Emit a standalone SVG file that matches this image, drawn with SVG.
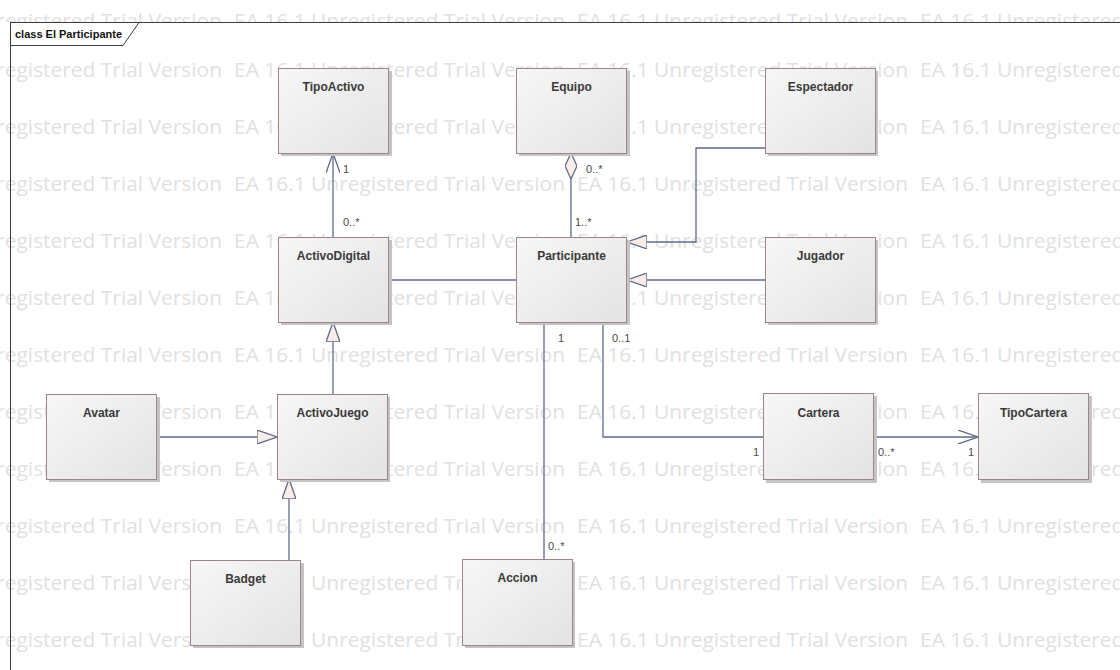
<svg xmlns="http://www.w3.org/2000/svg" xmlns:xlink="http://www.w3.org/1999/xlink" width="1120" height="670" viewBox="0 0 1120 670">
  <style>
    .wm { font-family: "Open Sans", "Liberation Sans", sans-serif; font-size: 20px; fill: #e1e1e1; }
    .box { fill: url(#boxFill); stroke: #9c8585; stroke-width: 1; }
    .shadow { fill: #c4c4c4; }
    .name { font-family: "Liberation Sans", Arial, sans-serif; font-size: 12px; font-weight: bold; fill: #3a3a3a; text-anchor: middle; }
    .edge { fill: none; stroke: #5f6b8a; stroke-width: 1.3; }
    .mult { font-family: "Liberation Sans", Arial, sans-serif; font-size: 11px; fill: #4a4a4a; }
    .frame { fill: none; stroke: #3c3c3c; stroke-width: 1; }
    .title { font-family: "Liberation Sans", Arial, sans-serif; font-size: 11px; font-weight: bold; fill: #111; }
  </style>
  <defs>
    <linearGradient id="boxFill" x1="0" y1="0" x2="1" y2="1">
      <stop offset="0" stop-color="#f7f7f7"/>
      <stop offset="1" stop-color="#e3e3e3"/>
    </linearGradient>
    <clipPath id="aboveFrame">
      <rect x="0" y="0" width="1120" height="22"/>
    </clipPath>
    <!-- generalization: hollow triangle -->
    <marker id="gen" viewBox="0 0 20 14" refX="20" refY="7" markerWidth="20" markerHeight="14" markerUnits="userSpaceOnUse" orient="auto">
      <path d="M0,0 L20,7 L0,14 Z" fill="#faece6" stroke="#5f6b8a" stroke-width="1.3"/>
    </marker>
    <!-- navigable association: open arrow -->
    <marker id="open" viewBox="0 0 20 14" refX="20" refY="7" markerWidth="20" markerHeight="14" markerUnits="userSpaceOnUse" orient="auto">
      <path d="M0,0 L20,7 L0,14" fill="none" stroke="#5f6b8a" stroke-width="1.3"/>
    </marker>
    <!-- shared aggregation: hollow diamond -->
    <marker id="agg" viewBox="0 0 26 12" refX="0" refY="6" markerWidth="26" markerHeight="12" markerUnits="userSpaceOnUse" orient="auto">
      <path d="M0,6 L13,0 L26,6 L13,12 Z" fill="#faece6" stroke="#5f6b8a" stroke-width="1.3"/>
    </marker>
    <g id="wmRow">
      <text class="wm" x="-109" textLength="331" lengthAdjust="spacingAndGlyphs">EA 16.1 Unregistered Trial Version</text>
      <text class="wm" x="234" textLength="331" lengthAdjust="spacingAndGlyphs">EA 16.1 Unregistered Trial Version</text>
      <text class="wm" x="577" textLength="331" lengthAdjust="spacingAndGlyphs">EA 16.1 Unregistered Trial Version</text>
      <text class="wm" x="920" textLength="331" lengthAdjust="spacingAndGlyphs">EA 16.1 Unregistered Trial Version</text>
    </g>
  </defs>

  <rect x="0" y="0" width="1120" height="670" fill="#ffffff"/>

  <!-- background evaluation stamp -->
  <g id="watermark">
    <g clip-path="url(#aboveFrame)">
      <use xlink:href="#wmRow" y="28"/>
    </g>
    <use xlink:href="#wmRow" y="77"/>
    <use xlink:href="#wmRow" y="134"/>
    <use xlink:href="#wmRow" y="191"/>
    <use xlink:href="#wmRow" y="248"/>
    <use xlink:href="#wmRow" y="305"/>
    <use xlink:href="#wmRow" y="362"/>
    <use xlink:href="#wmRow" y="419"/>
    <use xlink:href="#wmRow" y="476"/>
    <use xlink:href="#wmRow" y="533"/>
    <use xlink:href="#wmRow" y="590"/>
    <use xlink:href="#wmRow" y="647"/>
  </g>

  <!-- diagram frame -->
  <g id="frame">
    <rect class="frame" x="10.5" y="22.5" width="1130" height="670"/>
    <path class="frame" d="M10.5,45.5 H123 L139,22.5"/>
    <text class="title" x="15" y="38">class El Participante</text>
  </g>

  <!-- connectors -->
  <g id="connectors">
    <!-- ActivoDigital -> TipoActivo -->
    <path class="edge" d="M333,237 V153" marker-end="url(#open)"/>
    <!-- Equipo <>- Participante -->
    <path class="edge" d="M571,153 V237" marker-start="url(#agg)"/>
    <!-- ActivoDigital - Participante -->
    <path class="edge" d="M389,280 H516"/>
    <!-- Espectador -> Participante -->
    <path class="edge" d="M765,148 H696 V242 H627" marker-end="url(#gen)"/>
    <!-- Jugador -> Participante -->
    <path class="edge" d="M765,280 H627" marker-end="url(#gen)"/>
    <!-- ActivoJuego -> ActivoDigital -->
    <path class="edge" d="M333,394 V322" marker-end="url(#gen)"/>
    <!-- Avatar -> ActivoJuego -->
    <path class="edge" d="M157,437 H277" marker-end="url(#gen)"/>
    <!-- Badget -> ActivoJuego -->
    <path class="edge" d="M289,560 V479" marker-end="url(#gen)"/>
    <!-- Participante - Accion -->
    <path class="edge" d="M544,322 V559"/>
    <!-- Participante - Cartera -->
    <path class="edge" d="M603,322 V437 H763"/>
    <!-- Cartera -> TipoCartera -->
    <path class="edge" d="M874,437 H978" marker-end="url(#open)"/>

    <text class="mult" x="343" y="173">1</text>
    <text class="mult" x="343" y="226">0..*</text>
    <text class="mult" x="586" y="173">0..*</text>
    <text class="mult" x="575" y="226">1..*</text>
    <text class="mult" x="558" y="342">1</text>
    <text class="mult" x="612" y="342">0..1</text>
    <text class="mult" x="548" y="550">0..*</text>
    <text class="mult" x="753" y="456">1</text>
    <text class="mult" x="878" y="456">0..*</text>
    <text class="mult" x="968" y="456">1</text>
  </g>

  <!-- classes -->
  <g id="TipoActivo">
    <rect class="shadow" x="281" y="71" width="111" height="85"/>
    <rect class="box" x="278.5" y="68.5" width="110" height="85"/>
    <text class="name" x="333.5" y="91">TipoActivo</text>
  </g>
  <g id="Equipo">
    <rect class="shadow" x="519" y="71" width="111" height="85"/>
    <rect class="box" x="516.5" y="68.5" width="110" height="85"/>
    <text class="name" x="571.5" y="91">Equipo</text>
  </g>
  <g id="Espectador">
    <rect class="shadow" x="768" y="71" width="110" height="85"/>
    <rect class="box" x="765.5" y="68.5" width="110" height="85"/>
    <text class="name" x="820.5" y="91">Espectador</text>
  </g>
  <g id="ActivoDigital">
    <rect class="shadow" x="281" y="240" width="111" height="85"/>
    <rect class="box" x="278.5" y="237.5" width="110" height="85"/>
    <text class="name" x="333.5" y="260">ActivoDigital</text>
  </g>
  <g id="Participante">
    <rect class="shadow" x="519" y="240" width="111" height="85"/>
    <rect class="box" x="516.5" y="237.5" width="110" height="85"/>
    <text class="name" x="571.5" y="260">Participante</text>
  </g>
  <g id="Jugador">
    <rect class="shadow" x="768" y="240" width="110" height="85"/>
    <rect class="box" x="765.5" y="237.5" width="110" height="85"/>
    <text class="name" x="820.5" y="260">Jugador</text>
  </g>
  <g id="Avatar">
    <rect class="shadow" x="49" y="397" width="111" height="85"/>
    <rect class="box" x="46.5" y="394.5" width="110" height="85"/>
    <text class="name" x="101.5" y="417">Avatar</text>
  </g>
  <g id="ActivoJuego">
    <rect class="shadow" x="280" y="397" width="110" height="85"/>
    <rect class="box" x="277.5" y="394.5" width="110" height="85"/>
    <text class="name" x="332.5" y="417">ActivoJuego</text>
  </g>
  <g id="Cartera">
    <rect class="shadow" x="766" y="396" width="111" height="87"/>
    <rect class="box" x="763.5" y="393.5" width="110" height="86"/>
    <text class="name" x="818.5" y="417">Cartera</text>
  </g>
  <g id="TipoCartera">
    <rect class="shadow" x="981" y="396" width="111" height="87"/>
    <rect class="box" x="978.5" y="393.5" width="110" height="86"/>
    <text class="name" x="1033.5" y="417">TipoCartera</text>
  </g>
  <g id="Badget">
    <rect class="shadow" x="193" y="563" width="111" height="85"/>
    <rect class="box" x="190.5" y="560.5" width="110" height="85"/>
    <text class="name" x="245.5" y="583">Badget</text>
  </g>
  <g id="Accion">
    <rect class="shadow" x="465" y="562" width="110" height="86"/>
    <rect class="box" x="462.5" y="559.5" width="110" height="86"/>
    <text class="name" x="517.5" y="582">Accion</text>
  </g>
</svg>
